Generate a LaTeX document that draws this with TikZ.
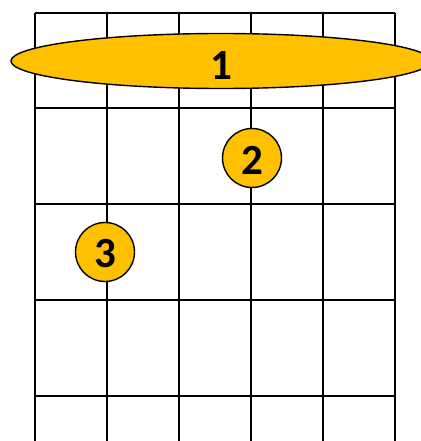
\documentclass[tikz,border=0pt]{standalone}
\usepackage{fontspec}
\setmainfont{Carlito}
\usepackage{xcolor}
\usetikzlibrary{shapes.geometric}

\definecolor{fingerfill}{HTML}{FFC000}

\begin{document}
\begin{tikzpicture}[x=1pt, y=-1pt,
		fret/.style={line width=1.8pt, black},
		finger/.style={draw, line width=1.4pt, fill=fingerfill, circle, minimum size=59pt, inner sep=0pt, text height=32pt, font=\fontsize{43}{43}\selectfont\bfseries},
		barre/.style={finger, ellipse, minimum width=420pt, minimum height=55pt, text height=38pt}]
		\useasboundingbox (0,0) rectangle (420,441);

		% strings and frets
		\foreach \sx in {35,107,179,251,323,395}
			\draw[fret] (\sx,13) -- (\sx,441);
		\foreach \fy in {13,108,204,300,396}
			\draw[fret] (35,\fy) -- (395,\fy);

		% fingers
		\node[barre] (f1) at (221,61) {1};
		\node[finger] (f2) at (252,158) {2};
		\node[finger] (f3) at (105,252) {3};
	\end{tikzpicture}
\end{document}
